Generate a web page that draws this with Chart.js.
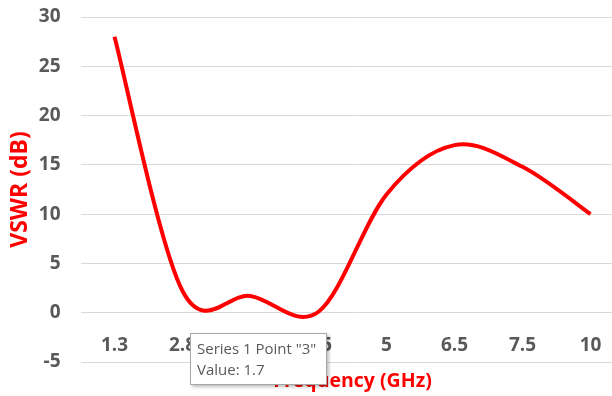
<!DOCTYPE html>
<html>
<head>
<meta charset="utf-8">
<script src="https://cdn.jsdelivr.net/npm/chart.js@4.4.1/dist/chart.umd.min.js"></script>
<style>
  html, body { margin: 0; padding: 0; overflow: hidden; background: #ffffff; }
  #wrap { position: relative; width: 640px; height: 396px; }
  #tip {
    position: absolute; left: 190px; top: 333px; width: 137px; height: 52px;
    background: #ffffff; border: 1px solid #a6a6a6;
    box-shadow: 2px 2px 3px rgba(0,0,0,0.25);
    font-family: "Open Sans", sans-serif; font-size: 15px; color: #595959;
    line-height: 21px; padding: 4px 0 0 6px; box-sizing: border-box; white-space: nowrap;
  }
</style>
</head>
<body>
<div id="wrap">
  <canvas id="c" width="640" height="396"></canvas>
  <div id="tip">Series 1 Point "3"<br>Value: 1.7</div>
</div>
<script>
const categories = ["1.3", "2.8", "3", "4.5", "5", "6.5", "7.5", "10"];
const vswrValues = [28, 2.2, 1.7, 0.1, 12, 17, 14.8, 10];
const yMin = -5;
const yMax = 30;
const yStep = 5;
const xTitle = "Frequency (GHz)";
const yTitle = "VSWR (dB)";

const tickFont = { family: "Open Sans", size: 19, weight: "bold" };

// Uniform Catmull-Rom control points (Excel-like smoothing), computed from the
// pixel positions that the library's scales gave each point.
const excelSmooth = {
  id: "excelSmooth",
  beforeDatasetsDraw(chart) {
    chart.data.datasets.forEach((ds, di) => {
      const meta = chart.getDatasetMeta(di);
      const line = meta.dataset;
      const pts = meta.data;
      if (!line || !pts.length) return;
      line.updateControlPoints(chart.chartArea, "x");
      for (let i = 0; i < pts.length; i++) {
        const p = pts[i];
        const prev = pts[i - 1] || p;
        const next = pts[i + 1] || p;
        const dx = (next.x - prev.x) / 6;
        const dy = (next.y - prev.y) / 6;
        p.cp1x = p.x - dx; p.cp1y = p.y - dy;
        p.cp2x = p.x + dx; p.cp2y = p.y + dy;
      }
      delete line._path;
    });
  }
};

new Chart(document.getElementById("c"), {
  type: "line",
  data: {
    labels: categories,
    datasets: [{
      label: "Series 1",
      data: vswrValues,
      borderColor: "#ff0000",
      borderWidth: 4,
      pointRadius: 0,
      pointHoverRadius: 0,
      tension: 0.4,
      fill: false
    }]
  },
  plugins: [excelSmooth],
  options: {
    responsive: false,
    animation: false,
    events: [],
    layout: { padding: { left: 7, top: 17, right: 15.5, bottom: 3.3 } },
    plugins: {
      legend: { display: false },
      tooltip: { enabled: false },
      title: {
        display: true,
        text: xTitle,
        position: "bottom",
        fullSize: false,
        color: "#ff0000",
        font: { family: "Open Sans", size: 19.5, weight: "bold" },
        padding: { top: 7.3, bottom: 0 }
      }
    },
    scales: {
      x: {
        type: "category",
        offset: true,
        position: { y: 0 },
        grid: { display: false, drawTicks: false },
        border: { display: false },
        ticks: { color: "#595959", font: tickFont, padding: 21, maxRotation: 0, autoSkip: false }
      },
      y: {
        min: yMin,
        max: yMax,
        afterFit: function (scale) { scale.width = 73.5; },
        grid: { color: "#d9d9d9", lineWidth: 1, drawTicks: true, tickLength: 20, tickColor: "rgba(0,0,0,0)" },
        border: { display: false },
        ticks: { stepSize: yStep, color: "#595959", font: tickFont, padding: 0 },
        title: { display: true, text: yTitle, color: "#ff0000", font: { family: "Open Sans", size: 23, weight: "bold" }, padding: { top: 0, bottom: 0 } }
      }
    }
  }
});
</script>
</body>
</html>
